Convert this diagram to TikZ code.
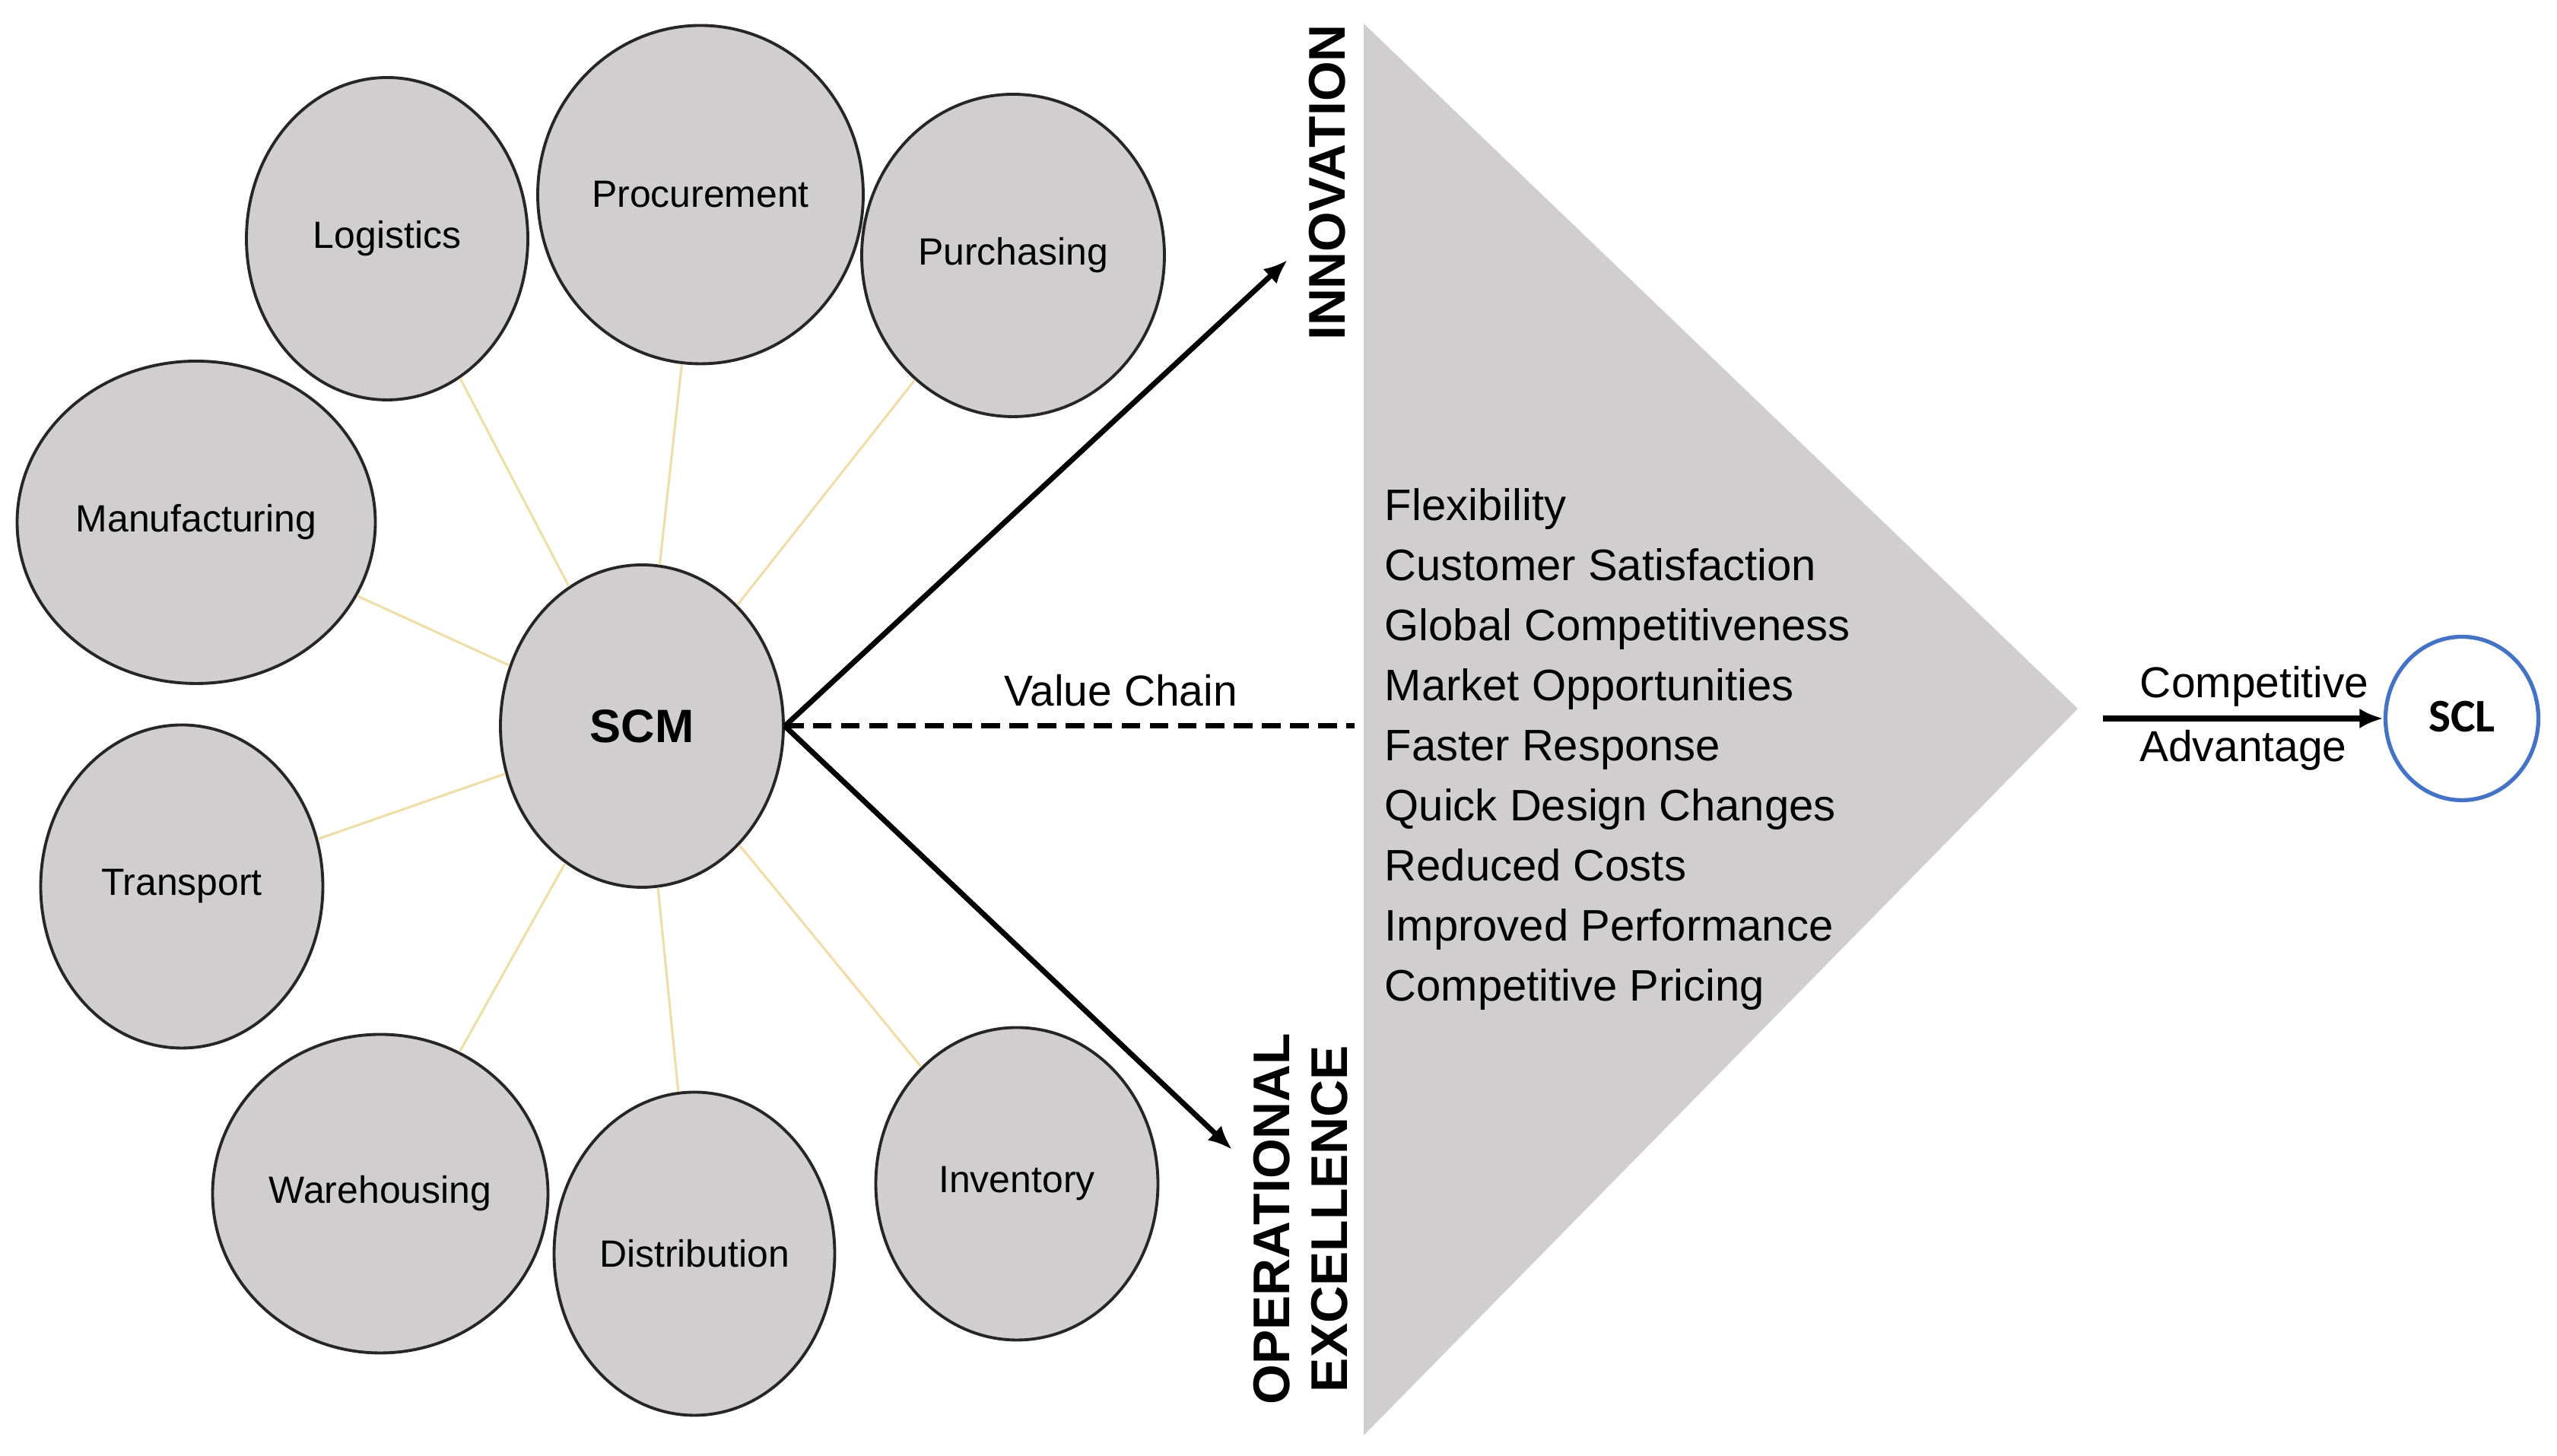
\documentclass[tikz,border=0pt]{standalone}
\usepackage{fontspec}
\setmainfont{Liberation Sans}
\newfontfamily\calibrifont{Carlito}
\usetikzlibrary{shapes.geometric, positioning, calc, arrows.meta}

\definecolor{bubblegray}{RGB}{208,206,206}
\definecolor{spokecol}{RGB}{238,222,170}
\definecolor{sclblue}{RGB}{68,114,196}

\begin{document}
\begin{tikzpicture}[font=\fontsize{16.2}{19}\selectfont, >={Latex[length=9pt, width=7.5pt]},
    bubble/.style={ellipse, draw=black!85, line width=1.1pt, fill=bubblegray, inner sep=0pt, font=\fontsize{14.2}{17}\selectfont},
    spoke/.style={draw=spokecol, line width=0.9pt},
    bigarrow/.style={->, line width=2pt},
    sidelabel/.style={rotate=90, align=center, font=\fontsize{19.3}{21.6}\selectfont\bfseries}]
    \useasboundingbox (0,0) rectangle (33.62,19.15);

    % grey wedge
    \fill[bubblegray] (17.93,18.84) coordinate (tri-top) -- (27.32,9.83) coordinate (tri-tip) -- (17.93,0.27) coordinate (tri-bot) -- cycle;

    % bubbles around SCM
    \node[bubble, minimum width=3.72cm, minimum height=4.24cm, font=\fontsize{17.5}{20}\selectfont\bfseries] (scm) at (8.44,9.60) {SCM};
    \node[bubble, minimum width=3.70cm, minimum height=4.24cm] (logistics) at (5.09,16.01) {Logistics};
    \node[bubble, minimum width=4.28cm, minimum height=4.45cm] (procurement) at (9.21,16.59) {Procurement};
    \node[bubble, minimum width=3.98cm, minimum height=4.24cm] (purchasing) at (13.32,15.79) {Purchasing};
    \node[bubble, minimum width=4.71cm, minimum height=4.24cm] (manufacturing) at (2.58,12.28) {Manufacturing};
    \node[bubble, minimum width=3.71cm, minimum height=4.25cm] (transport) at (2.39,7.49) {Transport};
    \node[bubble, minimum width=4.41cm, minimum height=4.19cm] (warehousing) at (5.00,3.45) {Warehousing};
    \node[bubble, minimum width=3.69cm, minimum height=4.25cm] (distribution) at (9.13,2.66) {Distribution};
    \node[bubble, minimum width=3.71cm, minimum height=4.11cm] (inventory) at (13.37,3.58) {Inventory};

    \foreach \n in {logistics, procurement, purchasing, manufacturing, transport, warehousing, distribution, inventory}
        \draw[spoke] (scm) -- (\n);

    % arrows out of SCM
    \coordinate (innov-tip) at (16.93,15.73);
    \coordinate (opex-tip) at (16.20,4.03);
    \coordinate (vc-end) at (17.81,9.60);
    \draw[bigarrow] (scm.east) -- (innov-tip);
    \draw[bigarrow] (scm.east) -- (opex-tip);
    \draw[line width=2pt, dash pattern=on 7pt off 3.5pt] (scm.east) -- (vc-end) node[pos=0.59, above=3pt] (valuechain) {Value Chain};

    \node[sidelabel] (innovation) at (17.45,16.75) {INNOVATION};
    \node[sidelabel] (opex) at (17.10,3.12) {OPERATIONAL\\EXCELLENCE};

    % benefits
    \foreach \txt [count=\i] in {Flexibility, Customer Satisfaction, Global Competitiveness, Market Opportunities, Faster Response, Quick Design Changes, Reduced Costs, Improved Performance, Competitive Pricing}
        \node[anchor=base west, inner sep=0pt, font=\fontsize{16.5}{19}\selectfont] (item\i) at (18.20,{12.30-0.79*(\i-1)}) {\txt};

    % SCL
    \node[ellipse, draw=sclblue, line width=1.5pt, fill=white, minimum width=2.01cm, minimum height=2.15cm, inner sep=0pt, font=\calibrifont\bfseries\fontsize{17.5}{20}\selectfont] (scl) at (32.37,9.70) {\raisebox{1.5pt}{SCL}};
    \coordinate (ca-start) at (27.65,9.70);
    \draw[->, line width=2.3pt] (ca-start) -- (scl) node[pos=0.54, above] (compet) {Competitive} node[pos=0.5, below] (advant) {Advantage};
\end{tikzpicture}
\end{document}
